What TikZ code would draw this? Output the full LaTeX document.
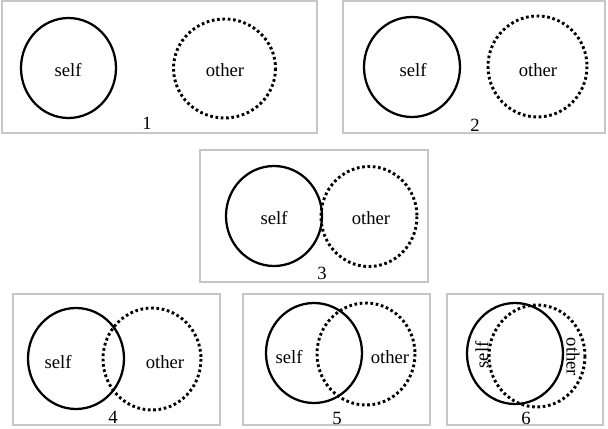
\documentclass[tikz,border=0pt]{standalone}
\usepackage{fontspec}
\setmainfont{Liberation Serif}
\begin{document}
\begin{tikzpicture}[x=0.75pt,y=-0.75pt,
  panel/.style={draw=black!22,line width=1.5pt},
  selfc/.style={draw=black,line width=1.7pt},
  otherc/.style={draw=black,line width=2.2pt,dash pattern=on 2pt off 2pt},
  lbl/.style={inner sep=0pt,font=\fontsize{14}{16}\selectfont},
  num/.style={inner sep=0pt,font=\fontsize{14}{16}\selectfont}]
\useasboundingbox (0,0) rectangle (608,429);
% panels
\draw[panel] (2,1) rectangle (317,133);
\draw[panel] (343,1) rectangle (605,133);
\draw[panel] (200,150) rectangle (428,282);
\draw[panel] (13,294) rectangle (220,425);
\draw[panel] (243,294) rectangle (430,425);
\draw[panel] (447,294) rectangle (603,425);
% panel 1
\draw[selfc] (68.5,68) ellipse [x radius=47.5,y radius=50];
\draw[otherc] (224.5,68.5) ellipse [x radius=51,y radius=49.5];
\node[lbl] (s1) at (68,70) {self};
\node[lbl] (o1) at (225,70) {other};
\node[num] (n1) at (147,123) {1};
% panel 2
\draw[selfc] (412,67) ellipse [x radius=48,y radius=50];
\draw[otherc] (537.5,66.5) ellipse [x radius=49.5,y radius=50.5];
\node[lbl] (s2) at (413,70) {self};
\node[lbl] (o2) at (538,70) {other};
\node[num] (n2) at (475,125) {2};
% panel 3
\draw[selfc] (274,216) ellipse [x radius=48,y radius=50];
\draw[otherc] (369,216.5) ellipse [x radius=48,y radius=50];
\node[lbl] (s3) at (274,218) {self};
\node[lbl] (o3) at (371,218) {other};
\node[num] (n3) at (322,273) {3};
% panel 4
\draw[selfc] (76,358.5) ellipse [x radius=48,y radius=50.5];
\draw[otherc] (152,359) ellipse [x radius=49,y radius=51];
\node[lbl] (s4) at (58,362) {self};
\node[lbl] (o4) at (165,362) {other};
\node[num] (n4) at (113,417) {4};
% panel 5
\draw[selfc] (314,353) ellipse [x radius=48,y radius=50];
\draw[otherc] (366,354) ellipse [x radius=49,y radius=51];
\node[lbl] (s5) at (289,357) {self};
\node[lbl] (o5) at (390,357) {other};
\node[num] (n5) at (337,418) {5};
% panel 6
\draw[selfc] (515,353.5) ellipse [x radius=48,y radius=50.5];
\draw[otherc] (537,356) ellipse [x radius=48,y radius=51];
\node[lbl,rotate=90] (s6) at (482,355) {self};
\node[lbl,rotate=-90] (o6) at (573,357) {other};
\node[num] (n6) at (526,418) {6};
\end{tikzpicture}
\end{document}
